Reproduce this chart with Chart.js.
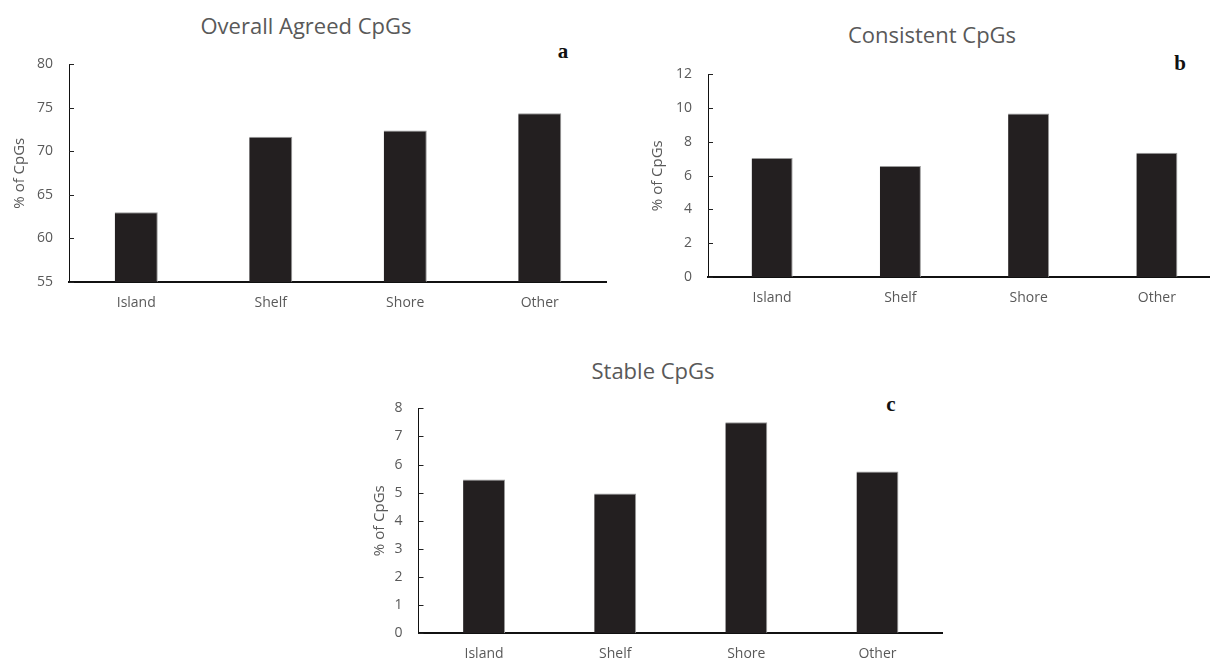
<!DOCTYPE html>
<html>
<head>
<meta charset="utf-8">
<title>CpGs</title>
<script src="https://cdn.jsdelivr.net/npm/chart.js@4.4.1/dist/chart.umd.min.js"></script>
<style>
  html, body {
    margin: 0;
    padding: 0;
    width: 1210px;
    height: 660px;
    overflow: hidden;
    background: #fff;
    position: relative;
  }

  canvas {
    position: absolute;
  }

  .title {
    position: absolute;
    width: 300px;
    text-align: center;
    font-family: "Open Sans", sans-serif;
    font-size: 22px;
    line-height: 30px;
    color: #595959;
    white-space: nowrap;
  }

  .letter {
    position: absolute;
    width: 40px;
    text-align: center;
    font-family: "Liberation Serif", "Times New Roman", serif;
    font-weight: bold;
    font-size: 21px;
    line-height: 20px;
    color: #111;
  }
</style>
</head>
<body>
<div class="title" style="left: 156px; top: 10px;">Overall Agreed CpGs</div>
<div class="title" style="left: 782px; top: 19px;">Consistent CpGs</div>
<div class="title" style="left: 503px; top: 355px;">Stable CpGs</div>

<div class="letter" style="left: 543px; top: 41px;">a</div>
<div class="letter" style="left: 1160px; top: 53px;">b</div>
<div class="letter" style="left: 871px; top: 394px;">c</div>

<canvas id="chart-a" width="607" height="282" style="left: 0px; top: 40px;"></canvas>
<canvas id="chart-b" width="581" height="267" style="left: 640px; top: 50px;"></canvas>
<canvas id="chart-c" width="583" height="279" style="left: 360px; top: 384px;"></canvas>

<script>
// datos
const categories = ["Island", "Shelf", "Shore", "Other"];
const overallAgreed = [63.0, 71.7, 72.4, 74.4];
const consistent = [7.05, 6.57, 9.69, 7.36];
const stable = [5.47, 4.97, 7.51, 5.75];

// [min, max, paso] del eje y
const overallRange = [55, 80, 5];
const consistentRange = [0, 12, 2];
const stableRange = [0, 8, 1];

const axisLabel = "% of CpGs";
const barColor = "#231f20";
const textColor = "#595959";

// marcas del eje y hacia dentro del area
const innerTicks = {
    id: "innerTicks",
    afterDraw(chart) {
        const ctx = chart.ctx;
        const y = chart.scales.y;
        const left = chart.chartArea.left;
        ctx.save();
        ctx.strokeStyle = "#222";
        ctx.lineWidth = 1;
        y.ticks.forEach((t, i) => {
            const py = Math.round(y.getPixelForTick(i)) + 0.5;
            ctx.beginPath();
            ctx.moveTo(left, py);
            ctx.lineTo(left + 5, py);
            ctx.stroke();
        });
        ctx.restore();
    },
};

function makeChart(id, values, range, yWidth, xHeight, titlePad) {
    const ctx = document.getElementById(id).getContext("2d");
    return new Chart(ctx, {
        type: "bar",
        data: {
            labels: categories,
            datasets: [
                {
                    data: values,
                    backgroundColor: barColor,
                    borderColor: "#9a9a9a",
                    borderWidth: { top: 1, right: 1, left: 0, bottom: 0 },
                    borderSkipped: false,
                    categoryPercentage: 1,
                    barPercentage: 0.32,
                },
            ],
        },
        options: {
            responsive: false,
            animation: false,
            devicePixelRatio: 1,
            layout: { padding: { top: 12, right: 0, left: 0, bottom: 0 } },
            plugins: {
                legend: { display: false },
                tooltip: { enabled: false },
                title: { display: false },
            },
            scales: {
                x: {
                    grid: { display: false, drawTicks: false },
                    border: { display: true, color: "#111", width: 2 },
                    ticks: {
                        color: textColor,
                        padding: 13,
                        font: { family: "Open Sans", size: 14 },
                    },
                    afterFit: (scale) => {
                        scale.height = xHeight;
                    },
                },
                y: {
                    min: range[0],
                    max: range[1],
                    grid: { display: false, drawTicks: false },
                    border: { display: true, color: "#111", width: 1 },
                    ticks: {
                        stepSize: range[2],
                        color: textColor,
                        padding: 16,
                        font: { family: "Open Sans", size: 14 },
                    },
                    title: {
                        display: true,
                        text: axisLabel,
                        color: textColor,
                        padding: { top: titlePad, bottom: 0 },
                        font: { family: "Open Sans", size: 15 },
                    },
                    afterFit: (scale) => {
                        scale.width = yWidth;
                    },
                },
            },
        },
        plugins: [innerTicks],
    });
}

makeChart("chart-a", overallAgreed, overallRange, 69, 40, 11);
makeChart("chart-b", consistent, consistentRange, 68, 40, 9);
makeChart("chart-c", stable, stableRange, 58.5, 30, 11);
</script>
</body>
</html>
